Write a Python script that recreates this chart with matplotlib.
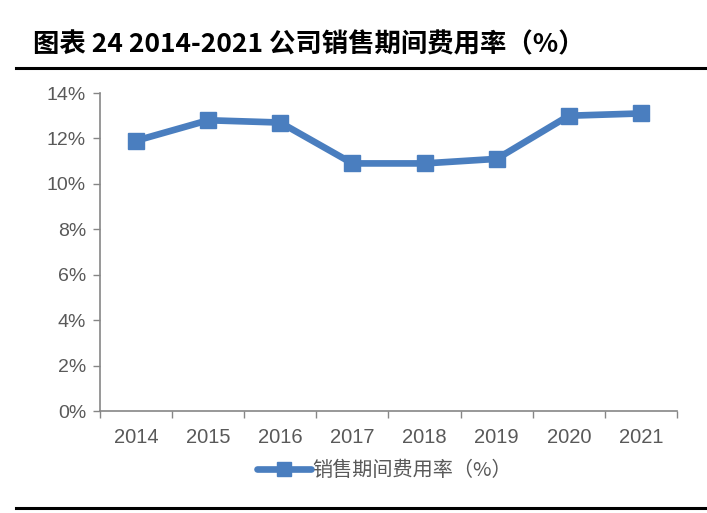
import matplotlib.pyplot as plt
from matplotlib.lines import Line2D
import numpy as np

plt.rcParams['font.family'] = ['Liberation Sans', 'Noto Sans CJK SC', 'DejaVu Sans']

# data
years = ['2014', '2015', '2016', '2017', '2018', '2019', '2020', '2021']
rates = [11.9, 12.8, 12.7, 10.9, 10.9, 11.1, 13.0, 13.1]
y_ticks = [0, 2, 4, 6, 8, 10, 12, 14]
series_name = '销售期间费用率（%）'
title = '图表 24 2014-2021 公司销售期间费用率（%）'

line_color = '#4A7EBF'
axis_color = '#868686'
text_color = '#595959'

fig = plt.figure(figsize=(7.07, 5.13), dpi=100)
ax = fig.add_axes([0.1414, 0.1988, 0.8162, 0.6199])

x = np.arange(len(years))
ax.plot(x, rates, color=line_color, linewidth=4.8, marker='s', markersize=12,
        markerfacecolor=line_color, markeredgecolor=line_color, solid_joinstyle='miter')

ax.set_xlim(-0.5, len(years) - 0.5)
ax.set_ylim(0, 14)

# major ticks at category edges, labels on minor ticks at the centres
ax.set_xticks(np.arange(-0.5, len(years), 1.0))
ax.set_xticklabels([])
ax.set_xticks(x, minor=True)
ax.set_xticklabels(years, minor=True)
ax.tick_params(axis='x', which='major', direction='out', length=5, color=axis_color, width=1)
ax.tick_params(axis='x', which='minor', length=0, pad=12, labelsize=14.5, labelcolor=text_color)

ax.set_yticks(y_ticks)
ax.set_yticklabels([f'{v}%' for v in y_ticks])
ax.tick_params(axis='y', direction='out', length=5, color=axis_color, width=1,
               labelsize=14, labelcolor=text_color, pad=5)

for side in ['top', 'right']:
    ax.spines[side].set_visible(False)
for side in ['left', 'bottom']:
    ax.spines[side].set_color(axis_color)
    ax.spines[side].set_linewidth(1.2)

# legend below the axis
handle = Line2D([], [], color=line_color, linewidth=4.8, marker='s', markersize=10,
                solid_capstyle='round')
leg = fig.legend([handle], [series_name], loc='center', bbox_to_anchor=(0.544, 0.083),
                 frameon=False, handlelength=2.7, handletextpad=0.05,
                 prop={'family': ['Noto Sans CJK SC', 'DejaVu Sans'], 'size': 14.5})
for t in leg.get_texts():
    t.set_color(text_color)

# title and rules
fig.text(0.047, 0.912, title, fontsize=19, fontweight='bold', color='black',
         family=['Noto Sans CJK SC', 'DejaVu Sans'], va='center', ha='left')
fig.add_artist(Line2D([0.023, 1.0], [0.867, 0.867], color='black', linewidth=2.2))
fig.add_artist(Line2D([0.023, 1.0], [0.010, 0.010], color='black', linewidth=2.2))

fig.savefig('out.png', dpi=100)
